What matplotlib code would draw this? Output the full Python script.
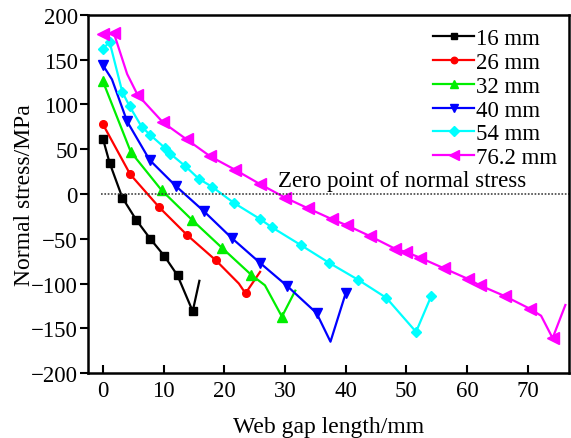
import matplotlib
matplotlib.use("Agg")
import matplotlib.pyplot as plt
from matplotlib.lines import Line2D

plt.rcParams['font.family'] = ['Liberation Serif', 'DejaVu Serif']
plt.rcParams['mathtext.fontset'] = 'stix'

labels = ["16 mm", "26 mm", "32 mm", "40 mm", "54 mm", "76.2 mm"]
colors = ["#000000", "#ff0000", "#00ee00", "#0000ff", "#00ffff", "#ff00ff"]
markers = ["s", "o", "^", "v", "D", "<"]
msizes = [5.5, 5.5, 7, 7, 5.5, 8]

x16 = [0, 1.1, 3.2, 5.5, 7.8, 10.1, 12.3, 14.8, 15.9]
y16 = [62, 35, -4, -29, -50, -69, -91, -131, -97]
m16 = [0, 1, 2, 3, 4, 5, 6, 7]

x26 = [0, 4.5, 9.3, 13.9, 18.6, 22.4, 23.5, 25.9]
y26 = [78, 22, -15, -46, -74, -100, -111, -87]
m26 = [0, 1, 2, 3, 4, 6]

x32 = [0, 4.6, 9.7, 14.7, 19.6, 24.4, 26.7, 29.5, 31.7]
y32 = [126, 47, 4, -29, -60, -90, -102, -137, -108]
m32 = [0, 1, 2, 3, 4, 5, 7]

x40 = [0, 1.5, 4.0, 7.7, 12.0, 16.6, 21.2, 25.9, 30.4, 35.2, 37.5, 40.0]
y40 = [144, 128, 81, 38, 9, -19, -49, -77, -103, -133, -165, -111]
m40 = [0, 2, 3, 4, 5, 6, 7, 8, 9, 11]

x54 = [0, 1.1, 3.2, 4.4, 6.4, 7.8, 10.3, 11.1, 13.6, 15.8, 18.0, 21.6, 25.9,
       27.8, 32.6, 37.3, 42.1, 46.7, 51.6, 54.1]
y54 = [162, 170, 114, 98, 75, 66, 51, 45, 31, 17, 8, -10, -28,
       -37, -57, -77, -96, -116, -154, -114]
m54 = list(range(20))

x76 = [0, 1.8, 4.0, 5.7, 9.9, 13.8, 17.7, 21.8, 25.9, 30.0, 33.8, 37.7, 40.2,
       44.0, 48.1, 50.0, 52.2, 56.2, 60.2, 62.1, 66.2, 70.3, 72.2, 74.1, 76.2]
y76 = [179, 180, 134, 111, 80, 61, 42, 27, 11, -4, -16, -28, -35,
       -47, -61, -65, -71, -83, -95, -102, -114, -128, -136, -161, -124]
m76 = [0, 1, 3, 4, 5, 6, 7, 8, 9, 10, 11, 12, 13, 14, 15, 16, 17, 18, 19, 20, 21, 23]

xs = [x16, x26, x32, x40, x54, x76]
ys = [y16, y26, y32, y40, y54, y76]
ms = [m16, m26, m32, m40, m54, m76]

fig = plt.figure(figsize=(5.71, 4.39), dpi=100)
ax = fig.add_axes([0.1536, 0.148, 0.8429, 0.8156])

for x, y, m, c, mk, s, lab in zip(xs, ys, ms, colors, markers, msizes, labels):
    ax.plot(x, y, color=c, lw=1.6, marker=mk, markersize=s, markevery=m,
            markeredgecolor=c, markerfacecolor=c, label=lab)

ax.axhline(0, xmin=0.027, xmax=1, color='#333333', lw=1.1, ls=(0, (1.1, 1.1)))
ax.text(28.9, 3, "Zero point of normal stress", fontsize=16.5, ha='left', va='bottom')

ax.set_xlim(-2.5, 76.8)
ax.set_ylim(-200, 200)
ax.set_xticks([0, 10, 20, 30, 40, 50, 60, 70])
ax.set_yticks([-200, -150, -100, -50, 0, 50, 100, 150, 200])
ax.tick_params(axis='x', direction='in', length=6, width=1.5, labelsize=16.5, pad=5)
ax.tick_params(axis='y', direction='out', length=6, width=1.5, labelsize=16.5, pad=1)
for sp in ax.spines.values():
    sp.set_linewidth(1.8)

ax.set_xlabel("Web gap length/mm", fontsize=17, labelpad=11)
ax.set_ylabel("Normal stress/MPa", fontsize=17, labelpad=-3)

handles = [Line2D([], [], color=c, lw=1.6, marker=mk, markersize=s * 0.85,
                  markerfacecolor=c, markeredgecolor=c)
           for c, mk, s in zip(colors, markers, msizes)]
ax.legend(handles, labels, loc='upper right', frameon=False, fontsize=16.5,
          handlelength=1.8, handletextpad=0.1, labelspacing=0.12,
          borderaxespad=0.1, bbox_to_anchor=(1.0, 0.995))

fig.savefig("out.png", dpi=100)
